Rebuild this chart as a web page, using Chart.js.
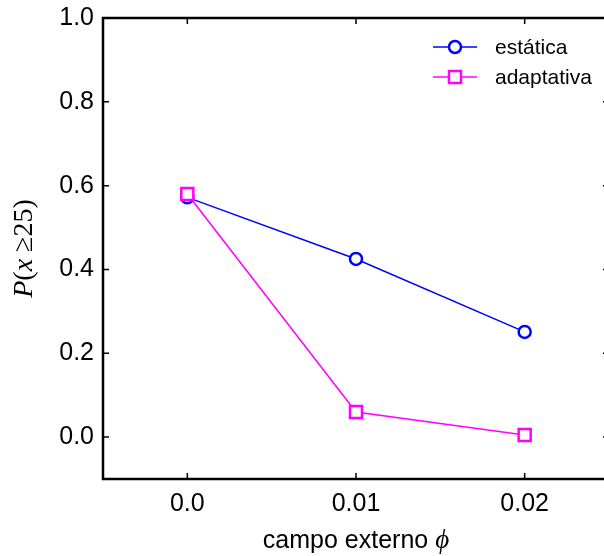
<!DOCTYPE html>
<html>
<head>
<meta charset="utf-8">
<script src="https://cdn.jsdelivr.net/npm/chart.js@4/dist/chart.umd.min.js"></script>
<style>
    html, body { margin: 0; padding: 0; background: #fff; overflow: hidden; }
    #wrap { width: 620px; height: 556px; }
</style>
</head>
<body>
<div id="wrap"><canvas id="chart" width="620" height="556"></canvas></div>
<script>
// data
const phiValues = [0.0, 0.01, 0.02];
const estatica = [0.572, 0.425, 0.251];
const adaptativa = [0.580, 0.060, 0.005];

const xTickValues = [0.0, 0.01, 0.02];
const xTickLabels = ["0.0", "0.01", "0.02"];
const yTickValues = [0.0, 0.2, 0.4, 0.6, 0.8, 1.0];
const yTickLabels = ["0.0", "0.2", "0.4", "0.6", "0.8", "1.0"];

const seriesNames = ["estática", "adaptativa"];

const SANS = "'Liberation Sans', Arial, sans-serif";
const SERIF = "'Liberation Serif', 'DejaVu Serif', serif";

function toPoints(values) {
    return phiValues.map((x, i) => ({ x: x, y: values[i] }));
}

// frame with inward ticks on all four sides
const frameTicks = {
    id: "frameTicks",
    afterDraw(chart) {
        const { ctx, chartArea: a, scales } = chart;
        const len = 6;
        ctx.save();
        ctx.strokeStyle = "#000";
        ctx.lineWidth = 1.5;
        ctx.beginPath();
        xTickValues.forEach((v) => {
            const px = scales.x.getPixelForValue(v);
            ctx.moveTo(px, a.bottom);
            ctx.lineTo(px, a.bottom - len);
            ctx.moveTo(px, a.top);
            ctx.lineTo(px, a.top + len);
        });
        yTickValues.forEach((v) => {
            const py = scales.y.getPixelForValue(v);
            ctx.moveTo(a.left, py);
            ctx.lineTo(a.left + len, py);
            ctx.moveTo(a.right, py);
            ctx.lineTo(a.right - len, py);
        });
        ctx.stroke();
        ctx.lineWidth = 2.5;
        ctx.strokeRect(a.left, a.top, a.right - a.left, a.bottom - a.top);
        ctx.restore();
    },
};

// draw a run of text pieces with their own fonts, centred on x
function drawPieces(ctx, pieces, cx, y) {
    let total = 0;
    pieces.forEach((p) => {
        ctx.font = p.font;
        total += ctx.measureText(p.text).width;
    });
    let x = cx - total / 2;
    pieces.forEach((p) => {
        ctx.font = p.font;
        ctx.fillText(p.text, x, y);
        x += ctx.measureText(p.text).width;
    });
}

// axis titles with mixed upright / italic math
const axisTitles = {
    id: "axisTitles",
    afterDraw(chart) {
        const { ctx, chartArea: a } = chart;
        ctx.save();
        ctx.fillStyle = "#000";
        ctx.textAlign = "left";
        ctx.textBaseline = "alphabetic";
        drawPieces(ctx, [
            { text: "campo externo ", font: "25px " + SANS },
            { text: "ϕ", font: "italic 27px " + SERIF },
        ], (a.left + a.right) / 2, 548);

        ctx.translate(32, (a.top + a.bottom) / 2);
        ctx.rotate(-Math.PI / 2);
        drawPieces(ctx, [
            { text: "P", font: "italic 28px " + SERIF },
            { text: "(", font: "28px " + SERIF },
            { text: "x", font: "italic 28px " + SERIF },
            { text: " ≥", font: "28px " + SERIF },
            { text: "25)", font: "28px " + SERIF },
        ], 0, 0);
        ctx.restore();
    },
};

// legend inside the plot, top right, line through marker
const insideLegend = {
    id: "insideLegend",
    afterDatasetsDraw(chart) {
        const { ctx, chartArea: a } = chart;
        ctx.save();
        chart.data.datasets.forEach((ds, i) => {
            const y = a.top + 29 + i * 30;
            const x0 = a.right - 176;
            const x1 = a.right - 132;
            const xm = (x0 + x1) / 2;
            ctx.strokeStyle = ds.borderColor;
            ctx.lineWidth = ds.borderWidth;
            ctx.beginPath();
            ctx.moveTo(x0, y);
            ctx.lineTo(x1, y);
            ctx.stroke();
            ctx.fillStyle = "#fff";
            ctx.lineWidth = ds.pointBorderWidth;
            ctx.beginPath();
            if (ds.pointStyle === "rect") {
                ctx.rect(xm - 6, y - 6, 12, 12);
            } else {
                ctx.arc(xm, y, 6, 0, Math.PI * 2);
            }
            ctx.fill();
            ctx.stroke();
            ctx.fillStyle = "#000";
            ctx.font = "21px " + SANS;
            ctx.textBaseline = "middle";
            ctx.textAlign = "left";
            ctx.fillText(ds.label, a.right - 114, y + 1);
        });
        ctx.restore();
    },
};

const ctx = document.getElementById("chart").getContext("2d");

new Chart(ctx, {
    type: "line",
    data: {
        datasets: [
            {
                label: seriesNames[0],
                data: toPoints(estatica),
                borderColor: "#0000ff",
                backgroundColor: "#ffffff",
                borderWidth: 1.5,
                pointStyle: "circle",
                pointRadius: 6,
                pointBorderWidth: 2.5,
                pointBackgroundColor: "#ffffff",
                pointBorderColor: "#0000ff",
                order: 2,
            },
            {
                label: seriesNames[1],
                data: toPoints(adaptativa),
                borderColor: "#ff00ff",
                backgroundColor: "#ffffff",
                borderWidth: 1.5,
                pointStyle: "rect",
                pointRadius: 8.5,
                pointBorderWidth: 2.5,
                pointBackgroundColor: "#ffffff",
                pointBorderColor: "#ff00ff",
                order: 1,
            },
        ],
    },
    options: {
        responsive: false,
        animation: false,
        layout: { padding: { top: 18, right: 10, left: 0, bottom: 0 } },
        plugins: {
            legend: { display: false },
            tooltip: { enabled: false },
        },
        scales: {
            x: {
                type: "linear",
                min: -0.005,
                max: 0.025,
                afterBuildTicks: (scale) => {
                    scale.ticks = xTickValues.map((v) => ({ value: v }));
                },
                afterFit: (scale) => {
                    scale.height = 77;
                    scale.paddingLeft = 0;
                    scale.paddingRight = 0;
                },
                grid: { display: false, drawTicks: false },
                border: { display: false },
                ticks: {
                    padding: 10,
                    color: "#000",
                    maxRotation: 0,
                    font: { family: SANS, size: 25 },
                    callback: (v) => {
                        const i = xTickValues.indexOf(v);
                        return i >= 0 ? xTickLabels[i] : "";
                    },
                },
                title: { display: false },
            },
            y: {
                type: "linear",
                min: -0.1,
                max: 1.0,
                afterBuildTicks: (scale) => {
                    scale.ticks = yTickValues.map((v) => ({ value: v }));
                },
                afterFit: (scale) => {
                    scale.width = 103;
                    scale.paddingTop = 0;
                    scale.paddingBottom = 0;
                },
                grid: { display: false, drawTicks: false },
                border: { display: false },
                ticks: {
                    padding: 9,
                    color: "#000",
                    font: { family: SANS, size: 25 },
                    callback: (v) => {
                        const i = yTickValues.findIndex((t) => Math.abs(t - v) < 1e-9);
                        return i >= 0 ? yTickLabels[i] : "";
                    },
                },
                title: { display: false },
            },
        },
    },
    plugins: [frameTicks, axisTitles, insideLegend],
});
</script>
</body>
</html>
